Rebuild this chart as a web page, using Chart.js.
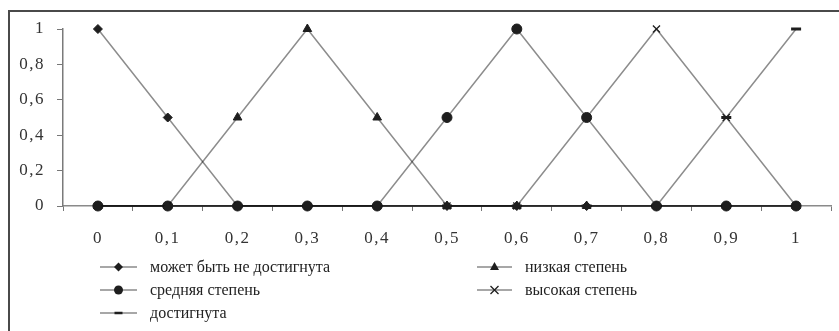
<!DOCTYPE html>
<html>
<head>
<meta charset="utf-8">
<script src="https://cdn.jsdelivr.net/npm/chart.js@4.4.1/dist/chart.umd.min.js"></script>
<style>
    html, body { margin: 0; padding: 0; background: #fff; }
    #wrap { position: relative; width: 839px; height: 331px; overflow: hidden; }
    #frame { position: absolute; left: 8px; top: 10px; width: 900px; height: 400px;
             border-top: 2px solid #4a4a4a; border-left: 2px solid #4a4a4a; }
    #chart { position: absolute; left: 0; top: 0; }
    .lg-item { position: absolute; height: 20px; }
    .lg-item svg { position: absolute; left: 0; top: 3px; }
    .lg-item span { position: absolute; top: 0; line-height: 20px; white-space: nowrap;
                    font-family: 'Liberation Serif', 'Times New Roman', serif; font-size: 16px; color: #222; }
</style>
</head>
<body>
<div id="wrap">
    <div id="frame"></div>
    <canvas id="chart" width="839" height="331"></canvas>
    <div id="legend"></div>
</div>
<script>
// categories on the x axis
const categories = ['0', '0,1', '0,2', '0,3', '0,4', '0,5', '0,6', '0,7', '0,8', '0,9', '1'];
const yTickLabels = ['0', '0,2', '0,4', '0,6', '0,8', '1'];

const seriesNames = [
    'может быть не достигнута',
    'низкая степень',
    'средняя степень',
    'высокая степень',
    'достигнута'
];

const notReached = [1, 0.5, 0, 0, 0, 0, 0, 0, 0, 0, 0];
const lowLevel   = [0, 0, 0.5, 1, 0.5, 0, 0, 0, 0, 0, 0];
const midLevel   = [0, 0, 0, 0, 0, 0.5, 1, 0.5, 0, 0, 0];
const highLevel  = [0, 0, 0, 0, 0, 0, 0, 0.5, 1, 0.5, 0];
const reached    = [0, 0, 0, 0, 0, 0, 0, 0, 0, 0.5, 1];

const seriesValues = [notReached, lowLevel, midLevel, highLevel, reached];
const pointStyles = ['rectRot', 'triangle', 'circle', 'crossRot', 'line'];

const LINE_COLOR = 'rgba(0,0,0,0.45)';
const MARK_COLOR = '#1e1e1e';
const FONT = "'Liberation Serif', 'Times New Roman', serif";

function pointOpts(style) {
    // size of each marker kind
    if (style === 'circle') return { pointRadius: 5, pointBorderWidth: 1 };
    if (style === 'triangle') return { pointRadius: 5, pointBorderWidth: 1 };
    if (style === 'rectRot') return { pointRadius: 4.5, pointBorderWidth: 1 };
    if (style === 'crossRot') return { pointRadius: 5, pointBorderWidth: 1.3 };
    return { pointRadius: 5, pointBorderWidth: 3 };
}

const datasets = seriesValues.map((vals, i) => Object.assign({
    label: seriesNames[i],
    data: vals,
    borderColor: LINE_COLOR,
    borderWidth: 1.5,
    pointStyle: pointStyles[i],
    pointBackgroundColor: MARK_COLOR,
    pointBorderColor: MARK_COLOR,
    tension: 0,
    clip: false
}, pointOpts(pointStyles[i])));

const spacing = {
    id: 'spacing',
    beforeUpdate(chart) { chart.ctx.letterSpacing = '1.5px'; },
    beforeDraw(chart) { chart.ctx.letterSpacing = '1.5px'; }
};

new Chart(document.getElementById('chart'), {
    type: 'line',
    data: { labels: categories, datasets: datasets },
    plugins: [spacing],
    options: {
        responsive: false,
        animation: false,
        layout: { padding: { top: 29, right: 0, left: 0, bottom: 0 } },
        plugins: { legend: { display: false }, tooltip: { enabled: false } },
        scales: {
            x: {
                offset: true,
                afterFit: (s) => { s.height = 125; },
                grid: { offset: true, drawOnChartArea: false, tickLength: 5, color: '#777', lineWidth: 1 },
                border: { color: '#8a8a8a', width: 1.5 },
                ticks: { color: '#333', padding: 17, font: { family: FONT, size: 17 }, maxRotation: 0, autoSkip: false }
            },
            y: {
                min: 0,
                max: 1,
                afterFit: (s) => { s.width = 63; },
                grid: { drawOnChartArea: false, tickLength: 6, color: '#777', lineWidth: 1 },
                border: { color: '#7a7a7a', width: 1.5 },
                ticks: {
                    stepSize: 0.2,
                    padding: 12,
                    color: '#333',
                    font: { family: FONT, size: 17 },
                    callback: (v, i) => yTickLabels[i]
                }
            }
        }
    }
});

// legend: two columns, row-major like the original
function markerSvg(style, cx, cy) {
    const c = MARK_COLOR;
    if (style === 'rectRot')
        return `<polygon points="${cx},${cy - 4.5} ${cx + 4.5},${cy} ${cx},${cy + 4.5} ${cx - 4.5},${cy}" fill="${c}"/>`;
    if (style === 'circle')
        return `<circle cx="${cx}" cy="${cy}" r="4.5" fill="${c}"/>`;
    if (style === 'triangle')
        return `<polygon points="${cx},${cy - 5} ${cx + 4.5},${cy + 3} ${cx - 4.5},${cy + 3}" fill="${c}"/>`;
    if (style === 'crossRot')
        return `<path d="M${cx - 4},${cy - 4}L${cx + 4},${cy + 4}M${cx - 4},${cy + 4}L${cx + 4},${cy - 4}" stroke="${c}" stroke-width="1.3"/>`;
    return `<path d="M${cx - 4},${cy}L${cx + 4},${cy}" stroke="${c}" stroke-width="2.5"/>`;
}

const legendCols = [{ x: 100, w: 37, text: 50 }, { x: 477, w: 35, text: 48 }];
const legendTop = 257;
const legendRow = 23;
const legendEl = document.getElementById('legend');
seriesNames.forEach((name, i) => {
    const col = legendCols[i % 2];
    const row = Math.floor(i / 2);
    const item = document.createElement('div');
    item.className = 'lg-item';
    item.style.left = col.x + 'px';
    item.style.top = (legendTop + row * legendRow) + 'px';
    const mid = col.w / 2;
    item.innerHTML =
        `<svg width="${col.w}" height="14"><path d="M0,7L${col.w},7" stroke="#8a8a8a" stroke-width="1.5"/>` +
        markerSvg(pointStyles[i], mid, 7) + `</svg><span style="left:${col.text}px">${name}</span>`;
    legendEl.appendChild(item);
});
</script>
</body>
</html>
